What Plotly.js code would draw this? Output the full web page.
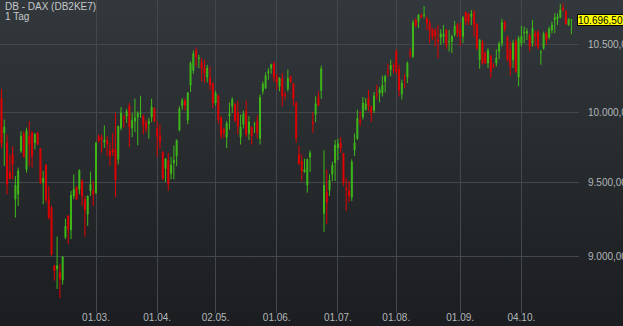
<!DOCTYPE html>
<html>
<head>
<meta charset="utf-8">
<script src="https://cdn.plot.ly/plotly-3.0.1.min.js"></script>
<style>
  html, body { margin: 0; padding: 0; overflow: hidden; }
  body { width: 623px; height: 326px; background: linear-gradient(to bottom, #33383c 0%, #272b2e 50%, #1b1d20 100%); }
  #chart { width: 623px; height: 326px; }
</style>
</head>
<body>
<div id="chart"></div>
<script>
const titleText = 'DB - DAX (DB2KE7)';
const periodText = '1 Tag';

const openVals = [
  10098,9850,9779,9574,9697,9386,9420,9720,9845,9592,
  9826,9850,9779,9850,9739,9500,9622,9386,9329,8943,
  8921,8900,8851,9128,9273,9179,9408,9470,9454,9511,
  9386,9284,9443,9443,9431,9826,9821,9784,9796,9720,
  9732,9732,9662,9886,9963,9970,10047,9884,9934,9963,
  9987,9970,9922,9915,9963,10025,9881,9831,9715,9597,
  9652,9564,9638,9685,9869,10047,10084,9941,10196,10308,
  10458,10398,10363,10325,10258,10250,10213,10066,10120,9958,
  9874,9819,9970,10042,10054,9994,9819,9910,10006,9845,
  9891,9910,9934,9810,10152,10176,10288,10325,10358,10258,
  10189,10250,10130,10169,10263,10208,10066,9697,9650,9574,
  9484,9678,9927,9982,10108,10159,9289,9436,9447,9557,
  9638,9743,9779,9704,9458,9443,9401,9727,9810,9941,
  9965,10018,10098,10037,10013,10135,10140,10140,10225,10300,
  10313,10338,10450,10313,10132,10248,10258,10438,10413,10693,
  10680,10727,10727,10706,10667,10621,10611,10539,10560,10565,
  10616,10522,10527,10578,10654,10616,10565,10753,10740,10719,
  10750,10659,10388,10519,10438,10363,10418,10343,10363,10450,
  10514,10675,10560,10463,10388,10527,10258,10514,10593,10590,
  10570,10514,10590,10595,10443,10475,10590,10560,10616,10693,
  10701,10714,10784,10758,10654,10693
];
const highVals = [
  10169,9946,9838,9697,9755,9546,9604,9862,9862,9886,
  9934,9862,9850,9855,9740,9581,9627,9477,9340,8943,
  9135,8954,9001,9255,9277,9443,9557,9477,9592,9523,
  9408,9410,9576,9511,9782,9838,9838,9903,9826,9779,
  9850,9994,9900,10037,9982,10023,10066,9994,10098,10006,
  10120,9982,9946,9958,10098,10037,9934,9910,9717,9669,
  9708,9680,9760,9803,10042,10103,10098,10147,10375,10458,
  10483,10425,10400,10388,10350,10338,10215,10157,10128,9970,
  9886,9934,10071,10108,10066,10084,9982,10011,10084,9970,
  9898,9929,9977,10128,10225,10293,10325,10358,10375,10283,
  10258,10288,10145,10313,10268,10213,10078,9760,9697,9667,
  9667,9725,9999,10115,10152,10343,9725,9592,9557,9645,
  9798,9808,9819,9708,9534,9511,9662,9845,10018,10006,
  10110,10103,10164,10047,10147,10201,10184,10268,10275,10358,
  10388,10363,10468,10350,10238,10283,10375,10475,10693,10706,
  10740,10745,10802,10719,10693,10629,10629,10654,10621,10654,
  10618,10616,10578,10685,10667,10672,10724,10758,10745,10771,
  10771,10667,10544,10539,10450,10475,10425,10363,10468,10527,
  10701,10688,10570,10527,10539,10544,10570,10646,10641,10629,
  10590,10693,10608,10616,10463,10603,10603,10641,10680,10745,
  10745,10818,10823,10771,10706,10698
];
const lowVals = [
  9743,9615,9420,9523,9523,9262,9340,9708,9674,9569,
  9615,9604,9732,9765,9489,9352,9363,9250,9008,8846,
  8793,8736,8821,9117,9084,9117,9386,9380,9420,9340,
  9135,9206,9408,9340,9420,9779,9708,9743,9685,9615,
  9685,9401,9627,9869,9886,9922,9748,9819,9855,9762,
  9958,9838,9855,9808,9927,9927,9680,9736,9516,9504,
  9443,9523,9523,9615,9860,10018,10011,9912,10147,10283,
  10338,10325,10225,10213,10218,10164,10030,10047,9917,9808,
  9814,9741,9874,9994,9927,9838,9767,9881,9821,9798,
  9767,9850,9808,9767,10128,10169,10238,10283,10225,10164,
  10152,10042,10091,10152,10213,10047,9779,9627,9511,9569,
  9431,9574,9850,9927,10042,10098,9166,9217,9408,9511,
  9511,9657,9708,9477,9306,9367,9374,9685,9798,9898,
  9946,10011,10006,9927,9994,10091,10071,10115,10145,10263,
  10263,10288,10275,10115,10091,10176,10213,10400,10400,10641,
  10629,10706,10706,10616,10514,10539,10488,10400,10501,10514,
  10468,10450,10438,10565,10560,10493,10514,10654,10654,10654,
  10565,10463,10320,10350,10358,10325,10250,10325,10338,10393,
  10488,10603,10375,10268,10325,10288,10189,10488,10514,10539,
  10450,10488,10488,10468,10350,10463,10501,10544,10590,10590,
  10654,10706,10758,10654,10646,10582
];
const closeVals = [
  9774,9891,9489,9528,9627,9482,9581,9826,9680,9867,
  9767,9685,9838,9767,9500,9530,9386,9262,9018,8911,
  8943,8857,9001,9204,9183,9413,9454,9386,9585,9408,
  9313,9408,9489,9420,9779,9791,9803,9798,9774,9685,
  9713,9516,9898,9994,9953,10004,9891,9941,9958,9989,
  9994,9910,9881,9934,10037,9934,9826,9784,9530,9667,
  9489,9622,9657,9796,10025,10084,10047,10140,10363,10433,
  10408,10400,10325,10288,10325,10201,10066,10140,9946,9833,
  9850,9917,9989,10091,9941,9898,9891,9987,9838,9929,
  9831,9915,9850,10108,10206,10268,10300,10350,10258,10218,
  10250,10115,10125,10250,10225,10098,9814,9631,9581,9592,
  9662,9708,9917,10061,10049,10320,9482,9363,9516,9620,
  9762,9772,9743,9500,9450,9408,9643,9779,9953,9934,
  10066,10061,10042,9994,10120,10128,10164,10196,10263,10295,
  10345,10333,10300,10159,10213,10243,10363,10428,10672,10646,
  10732,10714,10732,10667,10611,10560,10570,10527,10585,10585,
  10501,10527,10565,10646,10590,10565,10711,10680,10680,10740,
  10654,10475,10539,10363,10363,10458,10300,10338,10400,10509,
  10672,10621,10388,10338,10514,10300,10552,10565,10598,10603,
  10488,10629,10565,10488,10445,10585,10539,10624,10654,10711,
  10719,10771,10771,10662,10698,10696.5
];

// trading-day index of each date label on the x axis
const xTickIndex = [34, 56, 77, 99, 121, 142, 165, 187];
const xTickLabels = ['01.03.', '01.04.', '02.05.', '01.06.', '01.07.', '01.08.', '01.09.', '04.10.'];
const yTickVals = [9000, 9500, 10000, 10500];
const yTickLabels = ['9.000,00', '9.500,00', '10.000,00', '10.500,00'];

const dayIndex = openVals.map((_, i) => i);
const lastClose = closeVals[closeVals.length - 1];

function fmtDE(v) {
  const parts = v.toFixed(2).split('.');
  return parts[0].replace(/\B(?=(\d{3})+(?!\d))/g, '.') + ',' + parts[1];
}

const UP = '#3fb91a';
const DOWN = '#e10000';
const FONT = 'Liberation Sans, Arial, sans-serif';
const GRID = '#44484c';
const TXT = '#b3b7ba';

const trace = {
  type: 'candlestick',
  x: dayIndex,
  open: openVals,
  high: highVals,
  low: lowVals,
  close: closeVals,
  increasing: { line: { color: UP, width: 1 }, fillcolor: UP },
  decreasing: { line: { color: DOWN, width: 1 }, fillcolor: DOWN },
  whiskerwidth: 0,
  hoverinfo: 'none'
};

const layout = {
  width: 623,
  height: 326,
  margin: { l: 0, r: 44, t: 0, b: 13, pad: 0 },
  paper_bgcolor: 'rgba(0,0,0,0)',
  plot_bgcolor: 'rgba(0,0,0,0)',
  showlegend: false,
  boxgap: 0.5,
  font: { family: FONT, size: 10, color: TXT },
  xaxis: {
    type: 'linear',
    range: [-0.54, 207.73],
    tickmode: 'array',
    tickvals: xTickIndex,
    ticktext: xTickLabels,
    showgrid: true,
    gridcolor: GRID,
    gridwidth: 1,
    zeroline: false,
    showline: false,
    ticks: '',
    ticklabelstandoff: -3,
    tickfont: { family: FONT, size: 10, color: TXT },
    rangeslider: { visible: false },
    fixedrange: true
  },
  yaxis: {
    type: 'log',
    side: 'right',
    range: [3.93654, 4.03540],
    tickmode: 'array',
    tickvals: yTickVals,
    ticktext: yTickLabels,
    showgrid: true,
    gridcolor: GRID,
    gridwidth: 1,
    zeroline: false,
    showline: false,
    ticks: '',
    ticklabelstandoff: 8,
    tickfont: { family: FONT, size: 10, color: TXT },
    fixedrange: true
  },
  shapes: [{
    type: 'line',
    xref: 'paper', yref: 'y',
    x0: 0.981, x1: 1,
    y0: Math.log10(lastClose), y1: Math.log10(lastClose),
    line: { color: '#9a9ea2', width: 1 }
  }],
  annotations: [
    {
      xref: 'paper', yref: 'paper', x: 0, y: 1,
      xanchor: 'left', yanchor: 'top', xshift: 3, yshift: 1,
      text: titleText, showarrow: false,
      font: { family: FONT, size: 10, color: '#c3c7ca' }
    },
    {
      xref: 'paper', yref: 'paper', x: 0, y: 1,
      xanchor: 'left', yanchor: 'top', xshift: 3, yshift: -9,
      text: periodText, showarrow: false,
      font: { family: FONT, size: 10, color: '#c3c7ca' }
    },
    {
      xref: 'paper', yref: 'y', x: 1, y: Math.log10(lastClose),
      xanchor: 'left', yanchor: 'middle', xshift: -2,
      text: fmtDE(lastClose), showarrow: false, align: 'left',
      width: 50, height: 10,
      bgcolor: '#ffff00', bordercolor: '#000000', borderwidth: 1, borderpad: 0,
      font: { family: FONT, size: 10, color: '#000000' }
    }
  ]
};

Plotly.newPlot('chart', [trace], layout, { staticPlot: true, displayModeBar: false });
</script>
</body>
</html>
